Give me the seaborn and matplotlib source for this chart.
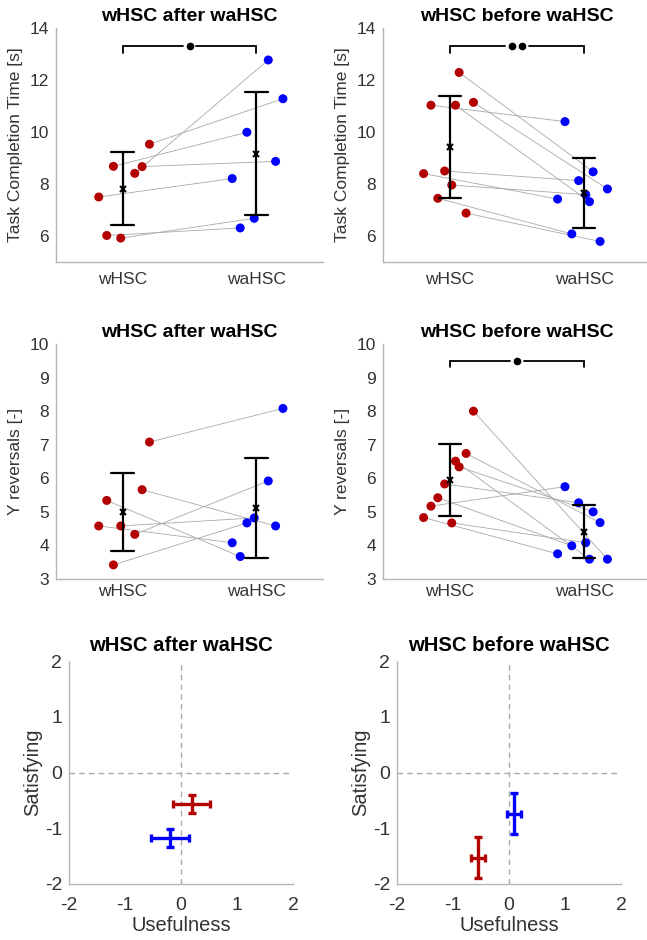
import numpy as np
import pandas as pd
import matplotlib
matplotlib.use("Agg")
import matplotlib.pyplot as plt
import seaborn as sns

# ---------------------------------------------------------------- data
conditions = ["wHSC", "waHSC"]

# group that used wHSC after waHSC (7 participants)
after_jitter = [-0.18, -0.12, -0.07, -0.015, 0.09, 0.145, 0.20]
tct_after_whsc = [7.50, 6.02, 8.68, 5.92, 8.41, 8.67, 9.53]
tct_after_wahsc = [8.21, 6.31, 9.99, 6.68, 12.77, 8.87, 11.28]
yrev_after_whsc = [4.58, 5.34, 3.42, 4.58, 4.33, 5.66, 7.08]
yrev_after_wahsc = [4.08, 3.67, 4.67, 4.82, 5.92, 4.58, 8.08]

# group that used wHSC before waHSC (9 participants)
before_jitter = [-0.197, -0.142, -0.091, -0.04, 0.013, 0.041, 0.068, 0.12, 0.175]
tct_before_whsc = [8.40, 11.03, 7.45, 8.50, 7.96, 11.03, 12.29, 6.88, 11.14]
tct_before_wahsc = [7.42, 10.40, 6.08, 8.13, 7.59, 7.32, 8.47, 5.79, 7.81]
yrev_before_whsc = [4.83, 5.17, 5.42, 5.83, 4.67, 6.51, 6.34, 6.74, 8.00]
yrev_before_wahsc = [3.75, 5.75, 3.99, 5.27, 4.08, 3.59, 5.00, 4.68, 3.59]

# acceptance questionnaire (order: wHSC, waHSC)
usefulness_after = [0.19, -0.19]
usefulness_after_err = [0.335, 0.34]
satisfying_after = [-0.57, -1.18]
satisfying_after_err = [0.16, 0.16]
usefulness_before = [-0.55, 0.09]
usefulness_before_err = [0.13, 0.125]
satisfying_before = [-1.53, -0.74]
satisfying_before_err = [0.37, 0.365]

# significance level: number of dots above the bracket (0 = none)
sig_tct = [1, 2]
sig_yrev = [0, 1]

# ---------------------------------------------------------------- style
sns.set_theme(style="white")
plt.rcParams["font.family"] = ["Liberation Sans", "DejaVu Sans"]
plt.rcParams["axes.unicode_minus"] = False

RED = "#B30000"
BLUE = "#0000FF"
palette = {"wHSC": RED, "waHSC": BLUE}
SPINE = "#B5B5B5"
TXT = "#333333"

W, H = 647, 940
fig = plt.figure(figsize=(W / 100, H / 100), dpi=100)


def add_axes(left, right, top, bottom):
    return fig.add_axes([left / W, 1 - bottom / H, (right - left) / W, (bottom - top) / H])


def style_axes(ax, labelsize=12.5, xpad=7):
    sns.despine(ax=ax)
    for s in ("left", "bottom"):
        ax.spines[s].set_color(SPINE)
        ax.spines[s].set_linewidth(1.0)
    ax.tick_params(direction="in", length=3, width=0.8, color=SPINE,
                   labelcolor=TXT, labelsize=labelsize)
    ax.tick_params(axis="y", pad=5)
    ax.tick_params(axis="x", pad=xpad)
    ax.yaxis.label.set_color(TXT)
    ax.xaxis.label.set_color(TXT)


def sig_bracket(ax, n_dots, y, drop):
    """Bracket between the two conditions with n_dots in a gap at its centre."""
    if not n_dots:
        return
    dot_step = 0.075
    half_gap = 0.052 + (n_dots - 1) * dot_step / 2
    kw = dict(color="black", linewidth=1.3, zorder=4, solid_joinstyle="miter")
    ax.plot([0, 0, 0.5 - half_gap], [y - drop, y, y], **kw)
    ax.plot([0.5 + half_gap, 1, 1], [y, y, y - drop], **kw)
    xs = 0.5 + (np.arange(n_dots) - (n_dots - 1) / 2) * dot_step
    ax.plot(xs, [y] * n_dots, linestyle="none", marker="o", markersize=4.5,
            color="black", zorder=5)


def paired_panel(ax, whsc, wahsc, jitter, title, ylabel, ylim, yticks,
                 n_dots=0, sig_y=None, drop=None, xpad=7):
    n = len(whsc)
    df = pd.DataFrame({
        "participant": list(range(n)) * 2,
        "condition": ["wHSC"] * n + ["waHSC"] * n,
        "value": list(whsc) + list(wahsc),
        "pos": [0 + j for j in jitter] + [1 + j for j in jitter],
    })
    sns.lineplot(data=df, x="pos", y="value", units="participant", estimator=None,
                 color="#A8A8A8", linewidth=0.6, ax=ax, zorder=1, legend=False)
    sns.scatterplot(data=df, x="pos", y="value", hue="condition", palette=palette,
                    s=42, edgecolor="none", linewidth=0, ax=ax, zorder=2, legend=False)
    sns.pointplot(data=df, x="condition", y="value", order=conditions, errorbar="sd",
                  color="black", marker="x", markersize=4.5, markeredgewidth=1.5,
                  linestyle="none", capsize=0.17,
                  err_kws={"linewidth": 1.6, "zorder": 5}, ax=ax, zorder=6)
    ax.set_xlim(-0.5, 1.5)
    ax.set_ylim(*ylim)
    ax.set_yticks(yticks)
    ax.set_xticks([0, 1])
    ax.set_xticklabels(conditions)
    ax.set_xlabel("")
    ax.set_ylabel(ylabel, fontsize=12.5, labelpad=5)
    ax.set_title(title, fontsize=14, fontweight="bold", pad=5, color="black")
    style_axes(ax, xpad=xpad)
    sig_bracket(ax, n_dots, sig_y, drop)


def rating_panel(ax, useful, useful_err, satis, satis_err, title):
    ax.axvline(0, color="#AAAAAA", linestyle=(0, (4, 3)), linewidth=1.0, zorder=1)
    ax.axhline(0, color="#AAAAAA", linestyle=(0, (4, 3)), linewidth=1.0, zorder=1)
    for i, cond in enumerate(conditions):
        ax.errorbar(useful[i], satis[i], xerr=useful_err[i], yerr=satis_err[i],
                    fmt="none", ecolor=palette[cond], elinewidth=2.4,
                    capsize=3.2, capthick=2.4, zorder=3)
    ax.set_xlim(-2, 2)
    ax.set_ylim(-2, 2)
    ax.set_xticks([-2, -1, 0, 1, 2])
    ax.set_yticks([-2, -1, 0, 1, 2])
    ax.set_xlabel("Usefulness", fontsize=14.5, labelpad=2)
    ax.set_ylabel("Satisfying", fontsize=14.5, labelpad=2)
    ax.set_title(title, fontsize=14.6, fontweight="bold", pad=7, color="black")
    style_axes(ax, labelsize=14, xpad=9)


ax1 = add_axes(56, 323, 28, 262)
ax2 = add_axes(383, 651, 28, 262)
ax3 = add_axes(56, 323, 344, 579)
ax4 = add_axes(383, 651, 344, 579)
ax5 = add_axes(69, 293, 661, 884)
ax6 = add_axes(397, 621, 661, 884)

paired_panel(ax1, tct_after_whsc, tct_after_wahsc, after_jitter, "wHSC after waHSC",
             "Task Completion Time [s]", (5, 14), [6, 8, 10, 12, 14],
             n_dots=sig_tct[0], sig_y=13.3, drop=0.27)
paired_panel(ax2, tct_before_whsc, tct_before_wahsc, before_jitter, "wHSC before waHSC",
             "Task Completion Time [s]", (5, 14), [6, 8, 10, 12, 14],
             n_dots=sig_tct[1], sig_y=13.3, drop=0.27)
paired_panel(ax3, yrev_after_whsc, yrev_after_wahsc, after_jitter, "wHSC after waHSC",
             "Y reversals [-]", (3, 10), list(range(3, 11)),
             n_dots=sig_yrev[0], xpad=3.5)
paired_panel(ax4, yrev_before_whsc, yrev_before_wahsc, before_jitter, "wHSC before waHSC",
             "Y reversals [-]", (3, 10), list(range(3, 11)),
             n_dots=sig_yrev[1], sig_y=9.5, drop=0.18, xpad=3.5)

rating_panel(ax5, usefulness_after, usefulness_after_err, satisfying_after,
             satisfying_after_err, "wHSC after waHSC")
rating_panel(ax6, usefulness_before, usefulness_before_err, satisfying_before,
             satisfying_before_err, "wHSC before waHSC")

fig.savefig("out.png", dpi=100, facecolor="white")
